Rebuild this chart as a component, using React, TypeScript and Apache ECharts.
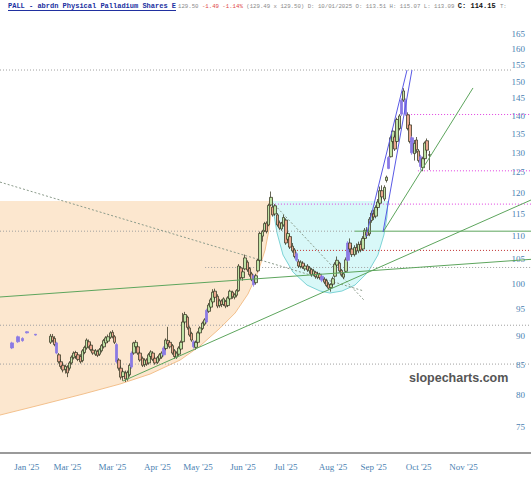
import React, { useEffect, useRef } from 'react';
import * as echarts from 'echarts';

// ---------- axes ----------
const SLOTS = 248;
const xLabels = ["Jan '25", "Mar '25", "Mar '25", "Apr '25", "May '25", "Jun '25", "Jul '25", "Aug '25", "Sep '25", "Oct '25", "Nov '25"];
const xLabelSlots = [12, 31, 52, 73, 92, 113, 133, 155, 174, 195, 216];
const yTickValues = [75, 80, 85, 90, 95, 100, 105, 110, 115, 120, 125, 130, 135, 140, 145, 150, 155, 160, 165];
const yMin = 71.2;
const yMax = 169.7;

// ---------- candles: [slot, open, close, low, high] ----------
const earlyCandles = [
  [5, 87.9, 88.8, 87.7, 89.0],
  [8, 89.0, 89.9, 88.8, 90.1],
  [10, 89.2, 89.6, 89.0, 89.8],
  [12, 90.6, 90.8, 90.5, 90.9],
  [16, 90.2, 90.35, 90.1, 90.4],
];
const mainStart = 23;
// [open, close, low, high]
const mainCandles = [
  [88.9, 90.0, 88.6, 90.4], [89.9, 89.2, 88.9, 90.4], [89.6, 88.5, 88.2, 90.0], [88.8, 87.0, 86.8, 89.0], [86.7, 85.5, 85.2, 87.0],
  [85.5, 84.7, 84.3, 85.9], [84.9, 84.1, 83.7, 85.3], [84.2, 84.7, 83.5, 85.0], [84.6, 83.6, 82.9, 84.9], [84.4, 85.3, 84.0, 85.6],
  [85.3, 86.3, 85.0, 86.6], [86.2, 87.0, 85.9, 87.3], [87.1, 86.4, 86.0, 87.4], [86.7, 85.9, 85.6, 87.0], [86.4, 85.5, 85.2, 86.8],
  [85.7, 87.4, 85.4, 87.7], [87.1, 88.0, 86.8, 88.3], [87.9, 89.3, 87.6, 89.6], [89.0, 88.1, 87.8, 89.4], [88.4, 87.6, 87.3, 88.7],
  [87.5, 87.0, 86.7, 87.8], [86.8, 87.4, 86.5, 87.7], [87.3, 86.6, 86.3, 87.6], [86.8, 87.6, 86.5, 87.9], [87.4, 88.3, 87.1, 88.6],
  [88.1, 89.2, 87.8, 89.5], [88.8, 89.7, 88.5, 90.0], [89.1, 89.9, 88.8, 90.3], [89.8, 90.6, 89.5, 90.9], [90.7, 89.9, 89.6, 91.1],
  [89.9, 88.9, 88.6, 90.2], [88.5, 85.5, 85.2, 88.8], [85.8, 84.4, 84.0, 86.1], [84.4, 82.9, 82.5, 84.8], [83.0, 83.8, 82.3, 84.1],
  [83.6, 82.6, 82.1, 84.0], [82.6, 83.7, 82.3, 84.0], [83.3, 84.9, 83.0, 85.2], [84.6, 87.0, 84.3, 87.3], [87.0, 88.8, 86.7, 89.0],
  [88.1, 88.9, 87.8, 89.3], [88.1, 87.0, 86.7, 88.4], [87.0, 85.8, 85.5, 87.3], [86.1, 84.9, 84.6, 86.4], [85.0, 85.8, 84.6, 86.1],
  [85.8, 85.1, 84.8, 86.1], [85.3, 86.7, 85.0, 87.0], [86.4, 87.2, 86.0, 87.5], [87.0, 85.9, 85.6, 87.3], [86.1, 85.3, 85.0, 86.4],
  [85.4, 86.2, 85.1, 86.5], [86.0, 86.7, 85.6, 87.0], [86.3, 87.0, 86.0, 87.3], [86.7, 87.9, 86.4, 88.2], [87.8, 89.3, 87.5, 89.6],
  [89.2, 88.6, 88.3, 91.7], [88.9, 88.1, 87.8, 89.2], [88.3, 87.0, 86.7, 88.6], [87.4, 86.4, 86.0, 87.7], [86.3, 87.0, 86.0, 87.3],
  [86.8, 87.9, 86.5, 88.2], [87.7, 88.9, 87.4, 89.2], [89.0, 92.6, 88.8, 94.3], [92.6, 94.0, 92.2, 94.5], [93.5, 91.6, 91.2, 93.8],
  [91.5, 90.2, 89.9, 91.8], [90.5, 89.3, 89.0, 90.8], [89.0, 88.1, 87.8, 89.3], [88.0, 88.9, 87.6, 89.2], [88.9, 90.6, 88.6, 90.9],
  [90.6, 91.5, 90.3, 91.8], [91.4, 92.4, 91.1, 92.7], [92.2, 93.0, 91.9, 93.3], [92.6, 94.8, 92.3, 95.1], [94.6, 95.8, 94.3, 96.2],
  [95.4, 96.8, 95.1, 97.2], [96.4, 98.3, 96.0, 98.9], [98.5, 97.3, 96.9, 99.0], [97.5, 95.6, 95.2, 97.9], [95.7, 96.6, 95.3, 97.0],
  [96.6, 95.9, 95.4, 96.9], [95.9, 97.0, 95.6, 97.3], [96.5, 95.6, 95.2, 96.8], [95.7, 97.2, 95.4, 97.5], [97.0, 98.5, 96.7, 98.8],
  [98.3, 97.4, 97.0, 98.6], [97.3, 97.8, 96.9, 98.1], [97.7, 98.6, 97.3, 98.9], [98.6, 103.6, 98.4, 104.0], [103.2, 101.2, 100.8, 103.6],
  [101.2, 102.4, 100.6, 102.8], [103.0, 105.3, 102.7, 106.0], [104.4, 102.8, 102.4, 104.8], [103.1, 101.8, 101.4, 103.4], [102.0, 100.8, 100.5, 102.4],
  [101.6, 99.8, 99.4, 101.9], [100.2, 101.6, 99.8, 102.0], [102.6, 104.8, 102.3, 105.1], [104.8, 110.6, 104.5, 111.0], [110.0, 111.0, 108.8, 111.4],
  [111.2, 112.8, 110.9, 113.2], [112.9, 111.0, 110.6, 113.3], [112.5, 117.0, 112.2, 117.4], [117.1, 118.9, 116.8, 120.3], [116.6, 114.8, 114.4, 117.2],
  [115.0, 116.9, 114.6, 117.3], [114.8, 112.5, 112.1, 115.2], [113.0, 111.8, 111.4, 113.5], [111.6, 112.9, 111.2, 113.2], [112.5, 114.2, 112.1, 114.8],
  [113.6, 108.5, 108.1, 114.0], [109.3, 110.6, 108.9, 111.0], [109.9, 107.6, 107.2, 110.3], [107.8, 106.8, 106.4, 108.5], [107.0, 105.6, 105.2, 107.4],
  [106.2, 104.8, 104.5, 106.6], [104.5, 103.6, 103.2, 105.0], [103.5, 104.4, 103.1, 104.8], [104.2, 103.4, 103.0, 104.6], [103.0, 103.6, 102.6, 104.0],
  [103.6, 102.8, 102.4, 104.0], [102.6, 103.2, 102.0, 103.6], [102.9, 101.8, 101.4, 103.2], [101.9, 102.6, 101.5, 103.0], [102.3, 101.4, 101.0, 102.6],
  [101.3, 102.0, 100.9, 102.4], [101.9, 101.2, 100.8, 102.2], [101.5, 100.7, 100.3, 101.9], [100.9, 100.3, 99.9, 101.3], [100.6, 99.6, 99.3, 101.0],
  [99.9, 99.1, 98.8, 100.3], [99.2, 99.8, 98.4, 100.1], [99.9, 101.0, 99.5, 101.4], [101.5, 104.0, 101.2, 104.4], [103.8, 104.8, 103.4, 105.6],
  [104.2, 102.6, 102.2, 104.5], [102.7, 101.8, 101.4, 103.0], [101.3, 102.0, 100.9, 102.3], [102.5, 104.9, 102.2, 105.4], [104.8, 108.5, 104.5, 108.9],
  [108.5, 107.2, 106.5, 109.5], [107.2, 106.0, 105.5, 108.0], [106.0, 107.5, 105.6, 108.0], [107.5, 106.8, 106.0, 108.4], [106.8, 108.2, 106.3, 108.8],
  [108.2, 107.0, 106.5, 109.0], [107.2, 109.5, 106.8, 110.0], [109.5, 111.3, 109.0, 111.8], [111.0, 110.2, 109.6, 112.0], [110.5, 113.8, 110.0, 114.3],
  [113.5, 115.2, 113.0, 115.8], [115.0, 114.3, 113.6, 116.0], [114.5, 116.5, 114.0, 117.0], [116.5, 117.8, 115.8, 118.5], [117.5, 120.5, 117.0, 121.5],
  [120.5, 119.0, 118.4, 121.8], [118.5, 121.3, 118.0, 121.8], [123.0, 123.8, 122.5, 124.2], [126.0, 128.8, 125.8, 129.2], [129.0, 134.0, 128.8, 134.5],
  [133.0, 135.8, 132.5, 136.5], [134.2, 131.0, 130.5, 134.8], [133.0, 139.0, 132.5, 139.5], [136.5, 140.0, 136.0, 140.5], [140.5, 144.5, 140.0, 145.0],
  [144.5, 147.2, 144.0, 148.0], [144.5, 140.5, 140.0, 145.0], [140.3, 136.5, 136.0, 141.0], [137.5, 133.0, 132.5, 138.3], [134.0, 130.0, 129.5, 134.5],
  [129.8, 132.5, 128.0, 133.4], [133.4, 130.8, 130.0, 134.2], [130.5, 128.0, 127.5, 131.0], [129.0, 126.5, 125.5, 129.5], [126.2, 128.5, 125.3, 129.0],
  [128.5, 132.6, 128.0, 133.0], [133.2, 130.7, 130.0, 133.8], [129.4, 129.5, 125.6, 130.5],
];
const purpleSlots = [5, 8, 10, 12, 16, 26, 54, 61, 76, 90, 96, 118, 138, 150, 162, 181, 187, 189, 192, 196];

// ---------- drawings (slot, price) ----------
const peachTop = 118.03;
const peachCurve = [
  [125.6, 118.03], [126.1, 115.46], [125.1, 111.36], [123.3, 106.98], [120.0, 102.36], [115.3, 97.94],
  [109.3, 94.28], [102.3, 91.48], [92.9, 88.24], [83.6, 85.79], [69.6, 83.42], [55.5, 81.76],
  [38.3, 80.14], [18.2, 78.39], [-0.5, 76.83],
];
const cyanCurve = [
  [126.5, 118.03], [127.5, 114.76], [128.9, 110.69], [131.7, 105.91], [136.3, 102.36], [142.9, 99.72],
  [149.0, 98.53], [153.6, 98.14], [159.2, 98.53], [165.3, 99.72], [171.4, 102.36], [176.0, 105.91],
  [178.8, 110.26], [180.2, 114.3], [180.7, 118.03],
];
const greenLines = [
  [[-0.5, 97.36], [247.5, 105.0]],
  [[56.9, 82.25], [247.5, 118.27]],
  [[178.4, 110.92], [220.4, 148.07]],
  [[165.3, 111.1], [247.5, 111.1]],
];
const blueLines = [
  [[170.4, 109.81], [189.6, 153.49]],
  [[178.4, 110.92], [191.9, 153.49]],
];
const dottedDiagonals = [
  [[-0.5, 122.6], [169.5, 98.53]],
  [[126.5, 117.8], [169.5, 96.76]],
];
// [price, fromSlot, toSlot, colour]
const levelLines: [number, number, number, string][] = [
  [153.5, -0.5, 239, '#a0a0a0'],
  [140.4, 188.7, 247.5, '#e040e0'],
  [125.4, 194.7, 247.5, '#e040e0'],
  [117.3, 126.5, 247.5, '#e040e0'],
  [111.1, -0.5, 165.3, '#a0a0a0'],
  [106.9, 138.2, 247.5, '#c03030'],
  [103.3, 95.3, 247.5, '#a0a0a0'],
  [92.0, -0.5, 247.5, '#a0a0a0'],
  [85.1, -0.5, 247.5, '#a0a0a0'],
];

const L = (v: number) => Math.log10(v);
const PURPLE = '#8a7ae4';
const AXIS_TXT = '#4a7fb2';

function segSeries(a: number[], b: number[], color: string, type: any, z: number) {
  return {
    type: 'line', xAxisIndex: 1, yAxisIndex: 0, silent: true, z,
    symbol: 'none', showSymbol: false,
    lineStyle: { color, width: 1, type },
    data: [[a[0], L(a[1])], [b[0], L(b[1])]],
  };
}

export default function App() {
  const ref = useRef<HTMLDivElement>(null);
  useEffect(() => {
    document.body.style.margin = '0';
    const chart = echarts.init(ref.current!, undefined, { renderer: 'svg' });

    const candleItems: any[] = [];
    const add = (slot: number, o: number, c: number, l: number, h: number) => {
      const item: any = { value: [slot, L(o), L(c), L(l), L(h)] };
      if (purpleSlots.indexOf(slot) >= 0) {
        item.itemStyle = { color: PURPLE, color0: PURPLE, borderColor: PURPLE, borderColor0: PURPLE };
      }
      candleItems.push(item);
    };
    earlyCandles.forEach((c) => add(c[0], c[1], c[2], c[3], c[4]));
    mainCandles.forEach((c, k) => add(mainStart + k, c[0], c[1], c[2], c[3]));

    const peachPoly = [[-0.5, peachTop], ...peachCurve];

    const series: any[] = [
      {
        type: 'custom', xAxisIndex: 1, yAxisIndex: 0, silent: true, z: 1,
        data: [[0, L(100)]],
        renderItem: (_p: any, api: any) => ({
          type: 'group',
          children: [
            { type: 'polygon', shape: { points: peachPoly.map((p) => api.coord([p[0], L(p[1])])) }, style: { fill: '#fce7cf' } },
            { type: 'polyline', shape: { points: peachCurve.map((p) => api.coord([p[0], L(p[1])])) }, style: { stroke: '#f3c08c', lineWidth: 1, fill: 'none' } },
          ],
        }),
      },
      {
        type: 'custom', xAxisIndex: 1, yAxisIndex: 0, silent: true, z: 1,
        data: [[0, L(100)]],
        renderItem: (_p: any, api: any) => ({
          type: 'group',
          children: [
            { type: 'polygon', shape: { points: cyanCurve.map((p) => api.coord([p[0], L(p[1])])) }, style: { fill: '#d8f8f8' } },
            { type: 'polyline', shape: { points: cyanCurve.map((p) => api.coord([p[0], L(p[1])])) }, style: { stroke: '#7cd3d6', lineWidth: 1, fill: 'none' } },
          ],
        }),
      },
      ...levelLines.map((lv) => segSeries([lv[1], lv[0]], [lv[2], lv[0]], lv[3], [1, 2], 2)),
      ...dottedDiagonals.map((d) => segSeries(d[0], d[1], '#8a9a8a', [2, 2], 2)),
      {
        type: 'candlestick', xAxisIndex: 0, yAxisIndex: 0, z: 3,
        encode: { x: 0, y: [1, 2, 3, 4] },
        barWidth: 3,
        itemStyle: { color: '#bfe3a5', color0: '#eaa78f', borderColor: '#3d3d2a', borderColor0: '#3d3d2a', borderWidth: 0.8 },
        data: candleItems,
      },
      ...greenLines.map((g) => segSeries(g[0], g[1], '#5da55d', 'solid', 4)),
      ...blueLines.map((g) => segSeries(g[0], g[1], '#5a5ae6', 'solid', 4)),
    ];

    const headerRich = {
      g: { fill: '#8a8a8a', font: '5.7px "Liberation Mono"' },
      r: { fill: '#e04848', font: '5.7px "Liberation Mono"' },
      b: { fill: '#111111', font: 'bold 7px "Liberation Mono"' },
    };
    const headerText =
      '{g|129.50 }{r|-1.49 -1.14% }{g|(129.49 x 129.50) D: 10/01/2025 O: 113.51 H: 115.07 L: 113.09 }{b|C: 114.15 }{g|T:}';

    chart.setOption({
      animation: false,
      backgroundColor: '#ffffff',
      grid: { left: 0, right: 0, top: 20, bottom: 27, outerBoundsMode: 'none' },
      xAxis: [
        {
          type: 'category',
          data: Array.from({ length: SLOTS }, (_, i) => String(i)),
          boundaryGap: true,
          axisLine: { lineStyle: { color: '#9a9a9a', width: 2 } },
          axisTick: { show: false },
          splitLine: { show: false },
          axisLabel: {
            interval: (index: number) => xLabelSlots.indexOf(index) >= 0,
            formatter: (_v: string, index: number) => {
              const k = xLabelSlots.indexOf(index);
              return k >= 0 ? xLabels[k] : '';
            },
            color: AXIS_TXT, fontSize: 9, fontFamily: 'Liberation Serif', margin: 9,
          },
        },
        { type: 'value', min: -0.5, max: SLOTS - 0.5, show: false },
      ],
      yAxis: {
        type: 'value',
        position: 'right',
        min: L(yMin),
        max: L(yMax),
        axisLine: { show: false },
        axisTick: { show: false },
        splitLine: { show: false },
        axisLabel: {
          inside: true,
          customValues: yTickValues.map(L),
          formatter: (v: number) => String(Math.round(Math.pow(10, v))),
          color: AXIS_TXT, fontSize: 9, fontFamily: 'Liberation Serif', margin: 6,
        },
      },
      graphic: [
        {
          type: 'text', x: 8, y: 6, silent: true,
          style: { text: 'PALL - abrdn Physical Palladium Shares E', fill: '#2030a0', font: 'bold 7px "Liberation Mono"', align: 'left', verticalAlign: 'middle', textAlign: 'left', textVerticalAlign: 'middle' },
        },
        { type: 'line', silent: true, shape: { x1: 8, y1: 10.5, x2: 176, y2: 10.5 }, style: { stroke: '#2030a0', lineWidth: 1 } },
        {
          type: 'text', x: 178, y: 6, silent: true,
          style: { text: headerText, rich: headerRich, align: 'left', verticalAlign: 'middle', textAlign: 'left', textVerticalAlign: 'middle' },
        },
        {
          type: 'text', x: 409, y: 378, silent: true, z: 10,
          style: { text: 'slopecharts.com', fill: '#555555', font: 'bold 12.5px "Liberation Sans"', align: 'left', verticalAlign: 'middle', textAlign: 'left', textVerticalAlign: 'middle' },
        },
      ],
      series,
    });
    return () => chart.dispose();
  }, []);
  return <div ref={ref} style={{ width: 531, height: 480 }} />;
}
